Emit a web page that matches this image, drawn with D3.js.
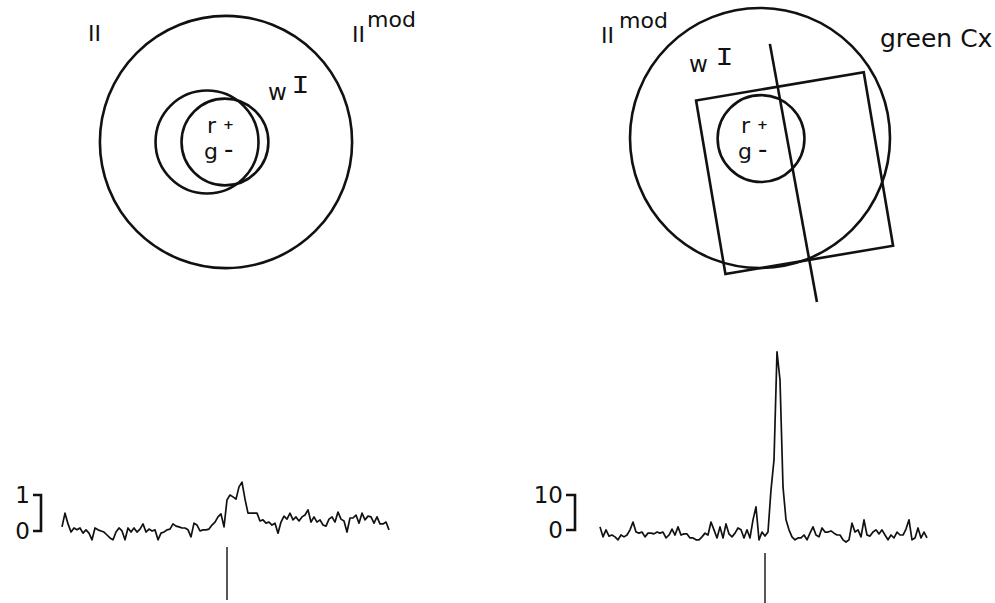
<!DOCTYPE html>
<html>
<head>
<meta charset="utf-8">
<script src="https://cdn.jsdelivr.net/npm/d3@7"></script>
<style>
  body { margin: 0; background: #fff; }
  svg text { font-family: "DejaVu Sans", sans-serif; fill: #111; }
</style>
</head>
<body>
<div id="chart"></div>
<script>
// PSTH values, one per bin (left: 1-unit scale bar, right: 10-unit scale bar)
const leftBins = [0.49, 0.86, 0.57, 0.35, 0.46, 0.41, 0.46, 0.32, 0.41, 0.32,
    0.14, 0.46, 0.41, 0.38, 0.35, 0.27, 0.19, 0.14, 0.35, 0.46,
    0.38, 0.14, 0.46, 0.35, 0.46, 0.35, 0.43, 0.57, 0.35, 0.43,
    0.38, 0.41, 0.14, 0.32, 0.35, 0.41, 0.43, 0.57, 0.51, 0.49,
    0.46, 0.46, 0.41, 0.22, 0.59, 0.54, 0.38, 0.41, 0.41, 0.43,
    0.54, 0.62, 0.76, 0.84, 0.49, 1.22, 1.35, 1.30, 1.24, 1.57,
    1.70, 1.24, 0.86, 0.86, 0.86, 0.86, 0.65, 0.68, 0.59, 0.62,
    0.54, 0.59, 0.32, 0.62, 0.78, 0.70, 0.86, 0.68, 0.76, 0.65,
    0.76, 0.81, 0.95, 0.62, 0.76, 0.62, 0.68, 0.54, 0.51, 0.70,
    0.76, 0.62, 0.89, 0.70, 0.65, 0.35, 0.73, 0.73, 0.81, 0.59,
    0.86, 0.68, 0.78, 0.76, 0.59, 0.76, 0.57, 0.57, 0.62, 0.41];

const rightBins = [4.9, 2.2, 4.1, 2.4, 2.7, 2.2, 1.4, 2.7, 2.2, 2.7,
    4.1, 6.2, 3.5, 3.2, 3.5, 2.2, 3.2, 3.2, 3.0, 3.5,
    3.2, 3.5, 1.9, 2.7, 4.3, 2.7, 4.9, 2.7, 3.0, 3.0,
    1.9, 1.9, 1.4, 1.4, 2.2, 3.2, 2.7, 6.2, 4.1, 1.9,
    4.9, 1.9, 5.7, 3.0, 2.2, 3.2, 4.6, 4.1, 1.9, 4.1,
    1.9, 6.8, 10.3, 1.4, 3.5, 2.4, 3.5, 14.9, 23.0, 52.2,
    44.6, 15.7, 6.8, 4.1, 2.2, 1.4, 1.9, 1.9, 2.7, 1.4,
    3.2, 4.9, 2.7, 2.2, 4.6, 3.5, 3.5, 3.8, 3.2, 2.7,
    2.7, 1.4, 0.8, 1.4, 5.9, 3.5, 4.1, 2.2, 6.8, 2.7,
    2.4, 3.5, 4.1, 3.0, 4.1, 2.7, 1.4, 2.7, 1.9, 3.5,
    2.7, 2.7, 4.3, 6.8, 1.4, 1.9, 4.6, 1.9, 3.5, 1.9];

const stimBin = 55;
const leftBarTicks = [0, 1];
const rightBarTicks = [0, 10];

const width = 995, height = 603;
const ink = "#111";

const svg = d3.select("#chart").append("svg")
    .attr("width", width)
    .attr("height", height);

// receptive field drawings, in degrees, scaled to px
const deg = d3.scaleLinear().domain([0, 1]).range([0, 26]);

// left field
const left = svg.append("g").attr("transform", "translate(226,142)");
left.append("circle").attr("cx", 0).attr("cy", 0).attr("r", deg(4.85));
left.append("circle").attr("cx", deg(-0.73)).attr("cy", 0).attr("r", deg(1.98));
left.append("circle").attr("cx", deg(-0.04)).attr("cy", 0).attr("r", deg(1.67));
left.selectAll("circle")
    .attr("fill", "none")
    .attr("stroke", ink)
    .attr("stroke-width", 2.6);

// right field
const right = svg.append("g").attr("transform", "translate(760,138)");
right.append("circle").attr("cx", 0).attr("cy", 0).attr("r", deg(5.0));
right.append("circle").attr("cx", deg(0.04)).attr("cy", deg(0.02)).attr("r", deg(1.67));
right.append("rect")
    .attr("x", -deg(6.54) / 2)
    .attr("y", -deg(6.77) / 2)
    .attr("width", deg(6.54))
    .attr("height", deg(6.77))
    .attr("transform", `translate(${deg(1.33)},${deg(1.35)}) rotate(-9.6)`);
right.append("line")
    .attr("x1", deg(0.38)).attr("y1", deg(-3.62))
    .attr("x2", deg(2.19)).attr("y2", deg(6.31));
right.selectAll("circle, rect, line")
    .attr("fill", "none")
    .attr("stroke", ink)
    .attr("stroke-width", 2.6);

// labels
function label(x, y, txt, size) {
    return svg.append("text").attr("x", x).attr("y", y).attr("font-size", size).text(txt);
}
function romanOne(x, y) {
    svg.append("text")
        .attr("transform", `translate(${x},${y}) scale(1.15,1)`)
        .style("font-family", "'Liberation Mono', 'DejaVu Sans Mono', monospace")
        .attr("font-size", 26)
        .text("I");
}
function centreLabel(x, y) {
    label(x, y - 2, "r", 22);
    label(x + 16, y - 6, "+", 13).attr("font-weight", "bold");
    label(x - 3, y + 24, "g", 22);
    label(x + 17, y + 23, "-", 26);
}

label(88, 41, "II", 22);
label(352, 42, "II", 22);
label(367, 27, "mod", 22);
label(268, 100, "w", 23);
romanOne(291.5, 93);
centreLabel(207, 135);

label(601, 43, "II", 22);
label(619, 28, "mod", 22);
label(880, 47, "green Cx", 25);
label(689, 72, "w", 23);
romanOne(715.5, 65);
centreLabel(741, 135);

// histograms
function histogram(bins, xRange, yScale, barScale, barX, tickX, ticks, stimY) {
    const x = d3.scaleLinear().domain([0, bins.length - 1]).range(xRange);

    svg.append("path")
        .datum(bins)
        .attr("fill", "none")
        .attr("stroke", ink)
        .attr("stroke-width", 1.7)
        .attr("stroke-linejoin", "round")
        .attr("d", d3.line().x((d, i) => x(i)).y(d => yScale(d)));

    // stimulus marker
    svg.append("line")
        .attr("x1", x(stimBin)).attr("x2", x(stimBin))
        .attr("y1", stimY[0]).attr("y2", stimY[1])
        .attr("stroke", ink)
        .attr("stroke-width", 1.4);

    // scale bracket
    let y0 = barScale(ticks[0]), y1 = barScale(ticks[1]);
    svg.append("path")
        .attr("d", `M${tickX},${y1}H${barX}V${y0}H${tickX}`)
        .attr("fill", "none")
        .attr("stroke", ink)
        .attr("stroke-width", 2.6);
    svg.selectAll(null)
        .data(ticks)
        .enter()
        .append("text")
        .attr("x", tickX - 3)
        .attr("y", d => barScale(d))
        .attr("dy", "0.36em")
        .attr("text-anchor", "end")
        .attr("font-size", 23)
        .text(d => d);
}

histogram(leftBins, [62, 389],
    d3.scaleLinear().domain([0, 1]).range([545, 508]),
    d3.scaleLinear().domain([0, 1]).range([531, 495]),
    41, 33, leftBarTicks, [547, 600]);

histogram(rightBins, [600, 927],
    d3.scaleLinear().domain([0, 10]).range([545, 508]),
    d3.scaleLinear().domain([0, 10]).range([530, 495]),
    575, 566, rightBarTicks, [553, 603]);
</script>
</body>
</html>
